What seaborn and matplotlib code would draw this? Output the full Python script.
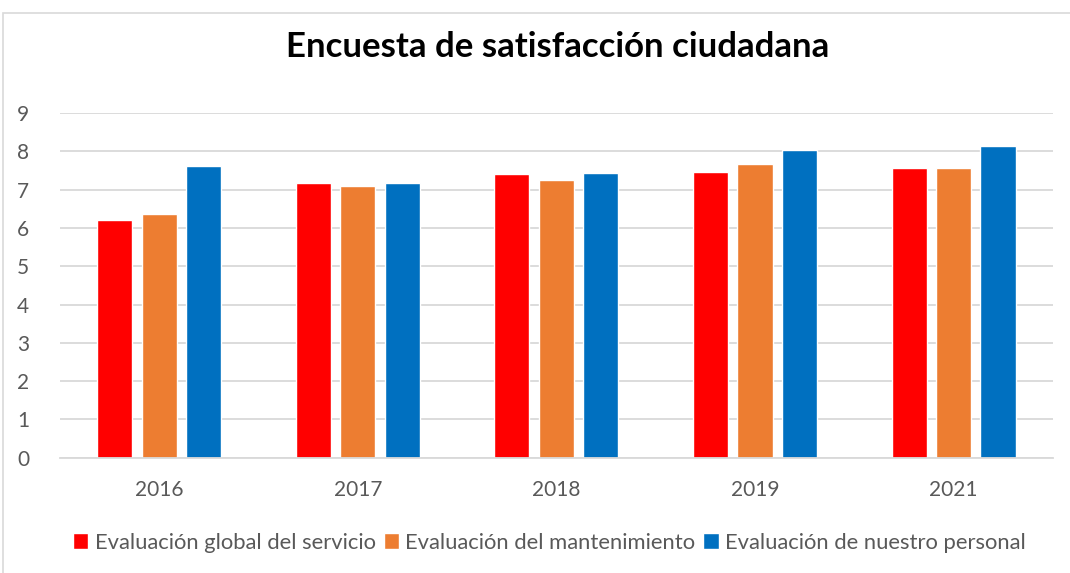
import matplotlib
matplotlib.use("Agg")
import matplotlib.pyplot as plt
import seaborn as sns
import pandas as pd
from matplotlib.patches import Rectangle

# data
years = ["2016", "2017", "2018", "2019", "2021"]
series = ["Evaluación global del servicio",
          "Evaluación del mantenimiento",
          "Evaluación de nuestro personal"]
global_servicio = [6.20, 7.16, 7.40, 7.45, 7.56]
mantenimiento = [6.35, 7.10, 7.26, 7.66, 7.55]
personal = [7.61, 7.16, 7.43, 8.03, 8.13]
colors = ["#FF0000", "#ED7D31", "#0070C0"]

rows = []
for name, vals in zip(series, [global_servicio, mantenimiento, personal]):
    for y, v in zip(years, vals):
        rows.append({"year": y, "serie": name, "value": v})
df = pd.DataFrame(rows)

sns.set_theme(style="white")
plt.rcParams['font.family'] = ['Lato', 'DejaVu Sans']

fig = plt.figure(figsize=(10.7, 5.73), dpi=100)
ax = fig.add_axes([0.056, 0.201, 0.928, 0.602])

sns.barplot(data=df, x="year", y="value", hue="serie", palette=colors,
            width=0.672, gap=0.21, ax=ax, saturation=1, legend=True)

ax.set_ylim(0, 9)
ax.set_yticks(range(0, 10))
ax.yaxis.grid(True, color="#d9d9d9", linewidth=1.3)
ax.set_axisbelow(True)
for s in ["top", "right", "left"]:
    ax.spines[s].set_visible(False)
ax.spines["bottom"].set_color("#d9d9d9")
ax.spines["bottom"].set_linewidth(1.3)
ax.set_xlabel("")
ax.set_ylabel("")
ax.tick_params(axis="both", length=0, labelsize=15, labelcolor="#595959")
ax.tick_params(axis="x", pad=16)
ax.tick_params(axis="y", pad=22)

leg = ax.legend(loc="upper center", bbox_to_anchor=(0.493, -0.16), ncol=3,
                frameon=False, fontsize=15.8, handlelength=0.7, handleheight=0.7,
                handletextpad=0.3, columnspacing=0.35)
for t in leg.get_texts():
    t.set_color("#595959")

fig.text(0.521, 0.918, "Encuesta de satisfacción ciudadana", ha="center", va="center",
         fontsize=25, fontweight="bold", color="black")

fig.patches.append(Rectangle((3 / 1070, -0.01), 1.0, 1 - 13 / 573 + 0.01,
                             transform=fig.transFigure, fill=False,
                             edgecolor="#d9d9d9", linewidth=1.2))

fig.savefig("out.png", dpi=100)
